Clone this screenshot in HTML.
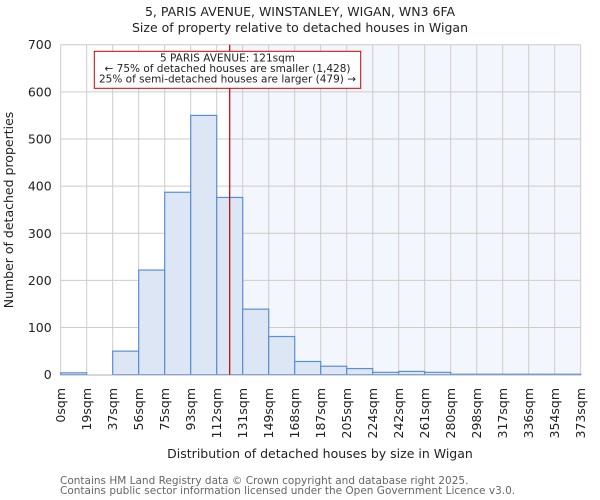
<!DOCTYPE html>
<html><head><meta charset="utf-8"><style>
body{margin:0;background:#fff}
svg{display:block;font-family:"DejaVu Sans","Liberation Sans",sans-serif}
</style></head><body>
<svg id="chart" width="600" height="500" viewBox="0 0 600 500">
<text x="300" y="16" text-anchor="middle" font-size="12.5" fill="#222">5, PARIS AVENUE, WINSTANLEY, WIGAN, WN3 6FA</text>
<text x="300" y="32" text-anchor="middle" font-size="12.5" fill="#222">Size of property relative to detached houses in Wigan</text>
<g id="plot"></g>
<text transform="translate(13,210) rotate(-90)" text-anchor="middle" font-size="12.5" fill="#222">Number of detached properties</text>
<text x="320" y="458" text-anchor="middle" font-size="12.5" fill="#222">Distribution of detached houses by size in Wigan</text>
<text x="60" y="484" font-size="10.5" fill="#666">Contains HM Land Registry data © Crown copyright and database right 2025.</text>
<text x="60" y="494" font-size="10.5" fill="#666">Contains public sector information licensed under the Open Government Licence v3.0.</text>
</svg>
<script>
const tickLabels=["0sqm","19sqm","37sqm","56sqm","75sqm","93sqm","112sqm","131sqm","149sqm","168sqm","187sqm","205sqm","224sqm","242sqm","261sqm","280sqm","298sqm","317sqm","336sqm","354sqm","373sqm"];
const counts=[4,0,50,222,387,550,376,139,81,28,18,13,5,7,5,1,1,1,1,1];
const yTicks=[0,100,200,300,400,500,600,700];
const markerBin=6.5;
const NS="http://www.w3.org/2000/svg";
const X0=60.7,X1=580.7,Y0=374.7,Y1=44.7,YMAX=700;
const bw=(X1-X0)/counts.length;
const xs=i=>X0+i*bw;
const ys=v=>Y0-(v/YMAX)*(Y0-Y1);
const g=document.getElementById('plot');
function mk(t,a){const e=document.createElementNS(NS,t);for(const k in a)e.setAttribute(k,a[k]);g.appendChild(e);return e;}
const mx=xs(markerBin);
const shade=mk('rect',{x:mx,y:Y1,width:X1-mx,height:Y0-Y1,fill:'#f3f6fd'});


yTicks.forEach(v=>{
 const l=mk('line',{x1:X0,x2:X1,y1:ys(v),y2:ys(v),stroke:'#ccc','stroke-width':1});
 
 
 const t=mk('text',{x:X0-9,y:ys(v)+4.5,'text-anchor':'end','font-size':12.5,fill:'#222'});
 t.textContent=v;
 
 
});
tickLabels.forEach((s,i)=>{
 const l=mk('line',{x1:xs(i),x2:xs(i),y1:Y1,y2:Y0,stroke:'#ccc','stroke-width':1});
 
 
 const t=mk('text',{transform:`translate(${xs(i)+4.5},388) rotate(-90)`,'text-anchor':'end','font-size':12.5,fill:'#222'});
 t.textContent=s;
 
 
});
counts.forEach((c,i)=>{
 const r=mk('rect',{x:xs(i),y:ys(c),width:bw,height:Y0-ys(c),fill:'#dce6f4',stroke:'#5a8fd6','stroke-width':1.2});
 
 
});
const ax=mk('line',{x1:X0,x2:X1,y1:Y0+0.5,y2:Y0+0.5,stroke:'#ccc','stroke-width':1});


const ml=mk('line',{x1:mx,x2:mx,y1:Y1,y2:Y0,stroke:'#b00','stroke-width':1.2});


const box=mk('rect',{x:94.3,y:51.3,width:266.4,height:37,fill:'#fff',stroke:'#c00','stroke-width':1});


["5 PARIS AVENUE: 121sqm","← 75% of detached houses are smaller (1,428)","25% of semi-detached houses are larger (479) →"].forEach((s,i)=>{
 const t=mk('text',{x:227.5,y:61.5+i*10.5,'text-anchor':'middle','font-size':10.5,fill:'#222'});
 t.textContent=s;
 
 
});
</script>
</body></html>
